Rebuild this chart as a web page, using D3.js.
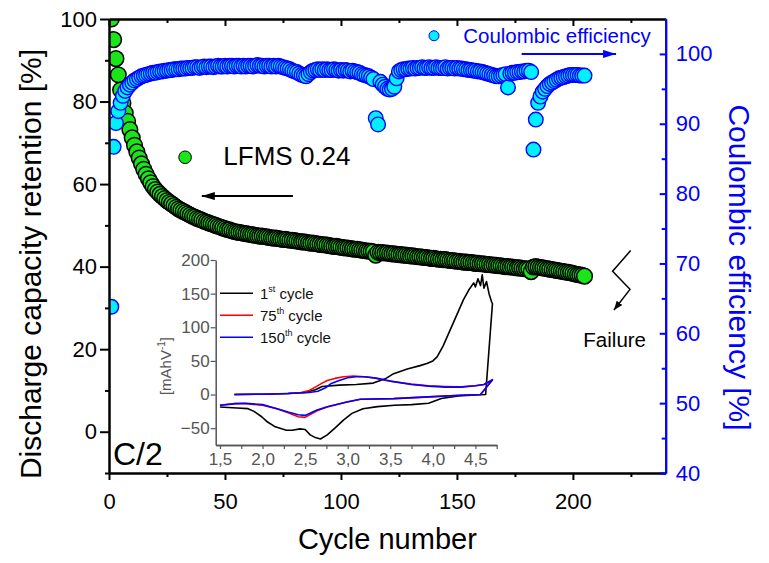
<!DOCTYPE html>
<html><head><meta charset="utf-8">
<script src="https://cdn.jsdelivr.net/npm/d3@7"></script>
<style>
body{margin:0;background:#fff}
svg{display:block}
text{font-family:"Liberation Sans",Arial,Helvetica,sans-serif}
</style>
</head><body>
<svg id="chart" width="769" height="563"></svg>
<script>
// ---------- DATA ----------
const retention = [
100,95.0,90.4,86.5,82.8,79.6,77.2,75.2,73.2,71.2,
69.4,67.8,66.3,64.9,63.6,62.4,61.3,60.3,59.4,58.7,
58.1,57.5,57.0,56.5,56.0,55.6,55.2,54.8,54.4,54.0,
53.7,53.4,53.1,52.8,52.5,52.2,52.0,51.7,51.5,51.3,
51.0,50.8,50.6,50.4,50.2,50.0,49.8,49.6,49.4,49.2,
49.0,48.9,48.7,48.5,48.4,48.3,48.2,48.1,48.0,47.9,
47.8,47.7,47.6,47.5,47.4,47.4,47.3,47.2,47.1,47.0,
46.9,46.9,46.8,46.7,46.6,46.6,46.5,46.4,46.4,46.3,
46.2,46.1,46.0,46.0,45.9,45.8,45.7,45.7,45.6,45.5,
45.4,45.3,45.3,45.2,45.1,45.0,44.9,44.9,44.8,44.7,
44.6,44.5,44.5,44.4,44.3,44.2,44.2,44.1,44.0,43.9,
43.8,43.8,43.7,43.6,42.8,43.5,43.4,43.4,43.3,43.3,
43.2,43.1,43.1,43.0,42.9,42.9,42.8,42.8,42.7,42.6,
42.6,42.5,42.4,42.4,42.3,42.2,42.2,42.1,42.0,42.0,
41.9,41.8,41.8,41.7,41.7,41.6,41.5,41.5,41.4,41.3,
41.3,41.2,41.1,41.1,41.0,41.0,40.9,40.8,40.8,40.7,
40.7,40.6,40.5,40.5,40.4,40.4,40.3,40.2,40.2,40.1,
40.0,40.0,39.9,39.9,39.8,39.7,39.7,39.6,39.5,39.5,
39.4,38.8,39.9,40.0,39.9,39.8,39.7,39.6,39.5,39.4,
39.3,39.2,39.1,39.0,38.9,38.8,38.7,38.6,38.5,38.4,
38.2,38.1,38.0,37.9,37.7
];
const coulombic = [
63.8,86.7,90.1,91.8,93.0,94.0,94.7,95.2,95.6,95.9,
96.2,96.4,96.6,96.8,96.9,97.0,97.1,97.2,97.3,97.3,
97.4,97.5,97.5,97.6,97.6,97.7,97.7,97.8,97.8,97.8,
97.9,97.9,97.9,98.0,98.0,98.0,98.1,98.1,98.0,98.1,
98.2,98.1,98.2,98.2,98.1,98.2,98.3,98.2,98.2,98.3,
98.2,98.3,98.3,98.2,98.3,98.3,98.2,98.3,98.2,98.3,
98.3,98.2,98.3,98.4,98.3,98.3,98.2,98.3,98.3,98.2,
98.3,98.2,98.3,98.2,98.1,98.0,97.9,97.8,97.6,97.5,
97.4,97.2,97.0,96.9,96.8,97.1,97.4,97.6,97.7,97.8,
97.7,97.8,97.7,97.8,97.7,97.7,97.8,97.7,97.6,97.7,
97.6,97.7,97.6,97.5,97.6,97.5,97.4,97.3,97.1,97.0,
96.9,96.8,96.6,96.4,90.8,89.9,96.0,95.6,95.3,95.0,
94.9,95.0,95.3,96.5,97.5,97.7,97.8,97.8,97.9,97.9,
98.0,97.9,98.0,98.0,98.1,98.0,98.0,98.1,98.0,98.0,
98.1,98.0,98.0,98.0,98.1,97.9,98.0,98.0,97.9,98.0,
97.9,97.9,97.8,97.8,97.7,97.7,97.6,97.6,97.5,97.5,
97.4,97.3,97.2,97.1,97.0,96.9,96.8,96.8,96.9,97.0,
97.1,95.2,97.2,97.3,97.3,97.4,97.4,97.5,97.5,97.6,
97.6,97.4,86.3,90.6,93.0,93.9,94.6,95.0,95.4,95.7,
95.9,96.1,96.3,96.5,96.6,96.7,96.8,96.9,97.0,97.0,
97.0,97.0,96.9,96.9,96.9
];
const xMajorTicks = [0,50,100,150,200];
const xMinorTicks = [25,75,125,175,225];
const leftMajorTicks = [0,20,40,60,80,100];
const leftMinorTicks = [-10,10,30,50,70,90];
const rightMajorTicks = [40,50,60,70,80,90,100];
const rightMinorTicks = [45,55,65,75,85,95];

// inset: cyclic voltammetry (voltage V, current mAh/V)
const cv1st = [
[1.67,0],[2.0,0.5],[2.3,1.5],[2.5,3],[2.62,7],[2.7,12],[2.9,14],[3.1,15],[3.3,17],[3.45,24],
[3.54,31],[3.7,38],[3.85,43],[3.93,46],[4.0,50],[4.05,56],[4.12,72],[4.2,95],[4.28,118],[4.36,141],
[4.42,155],[4.48,166],[4.5,160],[4.53,172],[4.56,162],[4.58,178],[4.6,158],[4.63,168],[4.66,150],[4.69,138],
[4.7,135],[4.62,0],[4.45,-1],[4.3,-2],[4.1,-6],[3.95,-13],[3.75,-15],[3.55,-16],[3.35,-18],[3.18,-21],
[3.05,-28],[2.95,-38],[2.85,-50],[2.76,-60],[2.68,-66],[2.62,-64],[2.56,-60],[2.5,-52],[2.44,-51],[2.35,-53],
[2.28,-53],[2.15,-48],[2.05,-40],[1.99,-33],[1.9,-25],[1.83,-21],[1.7,-20],[1.5,-18.6]
];
const cv75th = [
[1.67,0],[2.0,0.5],[2.3,1.5],[2.45,3],[2.55,6],[2.62,11],[2.7,17],[2.76,21],[2.85,24],[2.95,26.5],
[3.07,27.5],[3.2,26.5],[3.3,25],[3.45,21],[3.55,19],[3.75,15.5],[3.95,13],[4.15,12],[4.33,11.5],[4.5,13],
[4.6,15],[4.7,21.5],[4.56,0],[4.33,-1],[3.95,-3.5],[3.54,-6],[3.15,-7],[2.99,-11],[2.76,-18.5],[2.64,-24],
[2.5,-34],[2.42,-33],[2.3,-27],[2.17,-21],[2.0,-16],[1.8,-13.5],[1.68,-13.5],[1.5,-16]
];
const cv150th = [
[1.67,0],[2.0,0.5],[2.3,1.5],[2.55,3],[2.65,5],[2.74,10],[2.8,16],[2.9,21],[3.0,25],[3.1,26.5],
[3.2,26.5],[3.35,24],[3.5,20],[3.75,15],[3.95,12.5],[4.15,11],[4.33,11],[4.5,13],[4.6,15],[4.7,22],
[4.56,0],[4.33,-1],[3.95,-3.5],[3.54,-6],[3.15,-7],[2.99,-11],[2.76,-18],[2.64,-23],[2.5,-31],[2.42,-30],
[2.3,-26],[2.17,-21],[2.0,-15],[1.8,-13],[1.68,-13.5],[1.5,-16]
];
const cvXTicks = [1.5,2.0,2.5,3.0,3.5,4.0,4.5];
const cvXTickLabels = ["1,5","2,0","2,5","3,0","3,5","4,0","4,5"];
const cvXMinorTicks = [1.75,2.25,2.75,3.25,3.75,4.25,4.75];
const cvYTicks = [-50,0,50,100,150,200];

// ---------- CHART ----------
const svg = d3.select("#chart");
const x = d3.scaleLinear([0,240],[109,665.7]);
const yL = d3.scaleLinear([-10,100],[473,19]);
const yR = d3.scaleLinear([40,105],[473,19]);
const GREEN = "#18e618", CYAN = "#00f0ff", BLUE = "#0000ff";

const defs = svg.append("defs");
defs.append("clipPath").attr("id","plotclip").append("rect")
  .attr("x",x(0)).attr("y",yL(100)).attr("width",x(240)-x(0)).attr("height",yL(-10)-yL(100));
function arrowMarker(id,color,len,wid){
  defs.append("marker").attr("id",id).attr("markerUnits","userSpaceOnUse")
    .attr("markerWidth",len).attr("markerHeight",wid).attr("refX",len).attr("refY",wid/2)
    .attr("orient","auto").append("path")
    .attr("d",`M0,0L${len},${wid/2}L0,${wid}Z`).attr("fill",color);
}
arrowMarker("arrK","#000",13,8);
arrowMarker("arrB",BLUE,13,8);
arrowMarker("arrF","#000",9,7);

const plot = svg.append("g").attr("clip-path","url(#plotclip)");
plot.append("g").selectAll("circle").data(retention).join("circle")
  .attr("cx",(d,i)=>x(i+1)).attr("cy",d=>yL(d)).attr("r",7.8)
  .attr("fill",GREEN).attr("stroke","#000").attr("stroke-width",1.5);
plot.append("g").selectAll("circle").data(coulombic).join("circle")
  .attr("cx",(d,i)=>x(i+1)).attr("cy",d=>yR(d)).attr("r",7.3)
  .attr("fill",CYAN).attr("stroke",BLUE).attr("stroke-width",1.4);

// axes
function styleAxis(g,color,fs){
  g.select(".domain").attr("stroke",color).attr("stroke-width",2);
  g.selectAll(".tick line").attr("stroke",color).attr("stroke-width",2);
  g.selectAll(".tick text").attr("fill",color).attr("font-size",fs)
    .attr("font-family",'"Liberation Sans",Arial,sans-serif');
}
const fs = 22;
svg.append("g").attr("transform",`translate(0,${yL(-10)})`)
  .call(d3.axisBottom(x).tickValues(xMinorTicks).tickSize(4).tickFormat("").tickSizeOuter(0))
  .call(g=>styleAxis(g,"#000",fs));
svg.append("g").attr("transform",`translate(0,${yL(-10)})`)
  .call(d3.axisBottom(x).tickValues(xMajorTicks).tickSize(7).tickPadding(13).tickSizeOuter(0))
  .call(g=>styleAxis(g,"#000",fs));
svg.append("g").attr("transform",`translate(0,${yL(100)})`)
  .call(d3.axisTop(x).tickValues(xMinorTicks).tickSize(-4).tickFormat("").tickSizeOuter(0))
  .call(g=>styleAxis(g,"#000",fs));
svg.append("g").attr("transform",`translate(0,${yL(100)})`)
  .call(d3.axisTop(x).tickValues(xMajorTicks).tickSize(-7).tickFormat("").tickSizeOuter(0))
  .call(g=>styleAxis(g,"#000",fs));
svg.append("g").attr("transform",`translate(${x(0)},0)`)
  .call(d3.axisLeft(yL).tickValues(leftMinorTicks).tickSize(4).tickFormat("").tickSizeOuter(0))
  .call(g=>styleAxis(g,"#000",fs));
svg.append("g").attr("transform",`translate(${x(0)},0)`)
  .call(d3.axisLeft(yL).tickValues(leftMajorTicks).tickSize(9).tickPadding(3).tickSizeOuter(0))
  .call(g=>styleAxis(g,"#000",fs));
svg.append("g").attr("transform",`translate(${x(240)},0)`)
  .call(d3.axisRight(yR).tickValues(rightMinorTicks).tickSize(-4).tickFormat("").tickSizeOuter(0))
  .call(g=>styleAxis(g,BLUE,fs));
svg.append("g").attr("transform",`translate(${x(240)},0)`)
  .call(d3.axisRight(yR).tickValues(rightMajorTicks).tickSize(-6).tickPadding(10).tickSizeOuter(0))
  .call(g=>styleAxis(g,BLUE,fs));

// titles
svg.append("text").attr("x",(x(0)+x(240))/2).attr("y",549).attr("text-anchor","middle")
  .attr("font-size",29).text("Cycle number");
svg.append("text").attr("transform","translate(41,264) rotate(-90)").attr("text-anchor","middle")
  .attr("font-size",30).text("Discharge capacity retention [%]");
svg.append("text").attr("transform","translate(729,267.5) rotate(90)").attr("text-anchor","middle")
  .attr("font-size",30).attr("fill",BLUE).text("Coulombic efficiency [%]");

// legend / annotations (data coordinates)
svg.append("circle").attr("cx",x(32.8)).attr("cy",yL(66.5)).attr("r",6.3)
  .attr("fill",GREEN).attr("stroke","#000").attr("stroke-width",1);
svg.append("text").attr("x",x(49.3)).attr("y",yL(64.6)).attr("font-size",26).text("LFMS 0.24");
svg.append("line").attr("x1",x(79.3)).attr("x2",x(40.0)).attr("y1",yL(57.1)).attr("y2",yL(57.1))
  .attr("stroke","#000").attr("stroke-width",2).attr("marker-end","url(#arrK)");
svg.append("circle").attr("cx",x(140.1)).attr("cy",yR(102.6)).attr("r",5)
  .attr("fill",CYAN).attr("stroke",BLUE).attr("stroke-width",1);
svg.append("text").attr("x",x(152.7)).attr("y",yR(101.5)).attr("font-size",20.5)
  .attr("fill",BLUE).text("Coulombic efficiency");
svg.append("line").attr("x1",x(177.9)).attr("x2",x(218.6)).attr("y1",yR(100)).attr("y2",yR(100))
  .attr("stroke",BLUE).attr("stroke-width",2).attr("marker-end","url(#arrB)");
svg.append("text").attr("x",x(1.7)).attr("y",yL(-8.1)).attr("font-size",32).text("C/2");
svg.append("text").attr("x",x(204.5)).attr("y",yL(20.6)).attr("font-size",20.5).text("Failure");
const failPts = [[224.9,43.9],[217.1,38.9],[224.6,34.5],[217.7,29.5]];
svg.append("path").attr("d",d3.line().x(d=>x(d[0])).y(d=>yL(d[1]))(failPts))
  .attr("fill","none").attr("stroke","#000").attr("stroke-width",1.5).attr("marker-end","url(#arrF)");

// ---------- INSET ----------
const ix = d3.scaleLinear([1.45,4.75],[215.7,496.7]);
const iy = d3.scaleLinear([-75,200],[445,260]);
const GRAY = "#555";
const inset = svg.append("g");
function styleInset(g){
  g.select(".domain").attr("stroke",GRAY).attr("stroke-width",1.5);
  g.selectAll(".tick line").attr("stroke",GRAY).attr("stroke-width",1.2);
  g.selectAll(".tick text").attr("fill",GRAY).attr("font-size",17)
    .attr("font-family",'"Liberation Sans",Arial,sans-serif');
}
inset.append("g").attr("transform",`translate(0,${iy(-75)})`)
  .call(d3.axisBottom(ix).tickValues(cvXMinorTicks).tickSize(4).tickFormat("").tickSizeOuter(0))
  .call(styleInset);
inset.append("g").attr("transform",`translate(0,${iy(-75)})`)
  .call(d3.axisBottom(ix).tickValues(cvXTicks).tickSize(4).tickPadding(4)
    .tickFormat((d,i)=>cvXTickLabels[i]).tickSizeOuter(0))
  .call(styleInset);
inset.append("g").attr("transform",`translate(${ix(1.45)},0)`)
  .call(d3.axisLeft(iy).tickValues(cvYTicks).tickSize(5).tickPadding(1).tickSizeOuter(0))
  .call(styleInset);
const yl = inset.append("text").attr("transform","translate(171,366) rotate(-90)")
  .attr("text-anchor","middle").attr("font-size",15).attr("fill",GRAY);
yl.append("tspan").text("[mAhV");
yl.append("tspan").attr("font-size",10).attr("dy",-6).text("-1");
yl.append("tspan").attr("dy",6).text("]");

const cvLine = d3.line().x(d=>ix(d[0])).y(d=>iy(d[1]));
const curves = [
  {data:cv1st,color:"#000",num:"1",sup:"st"},
  {data:cv75th,color:"#ff0000",num:"75",sup:"th"},
  {data:cv150th,color:"#0000ff",num:"150",sup:"th"}
];
curves.forEach(c=>{
  inset.append("path").attr("d",cvLine(c.data)).attr("fill","none")
    .attr("stroke",c.color).attr("stroke-width",1.6).attr("stroke-linejoin","round");
});
curves.forEach((c,i)=>{
  const ly = 293.3 + i*22;
  inset.append("line").attr("x1",220).attr("x2",253).attr("y1",ly).attr("y2",ly)
    .attr("stroke",c.color).attr("stroke-width",1.6);
  const t = inset.append("text").attr("x",260).attr("y",ly+5.5).attr("font-size",15).attr("fill","#111");
  t.append("tspan").text(c.num);
  t.append("tspan").attr("font-size",9).attr("dy",-7).text(c.sup);
  t.append("tspan").attr("dy",7).text(" cycle");
});
</script>
</body></html>
